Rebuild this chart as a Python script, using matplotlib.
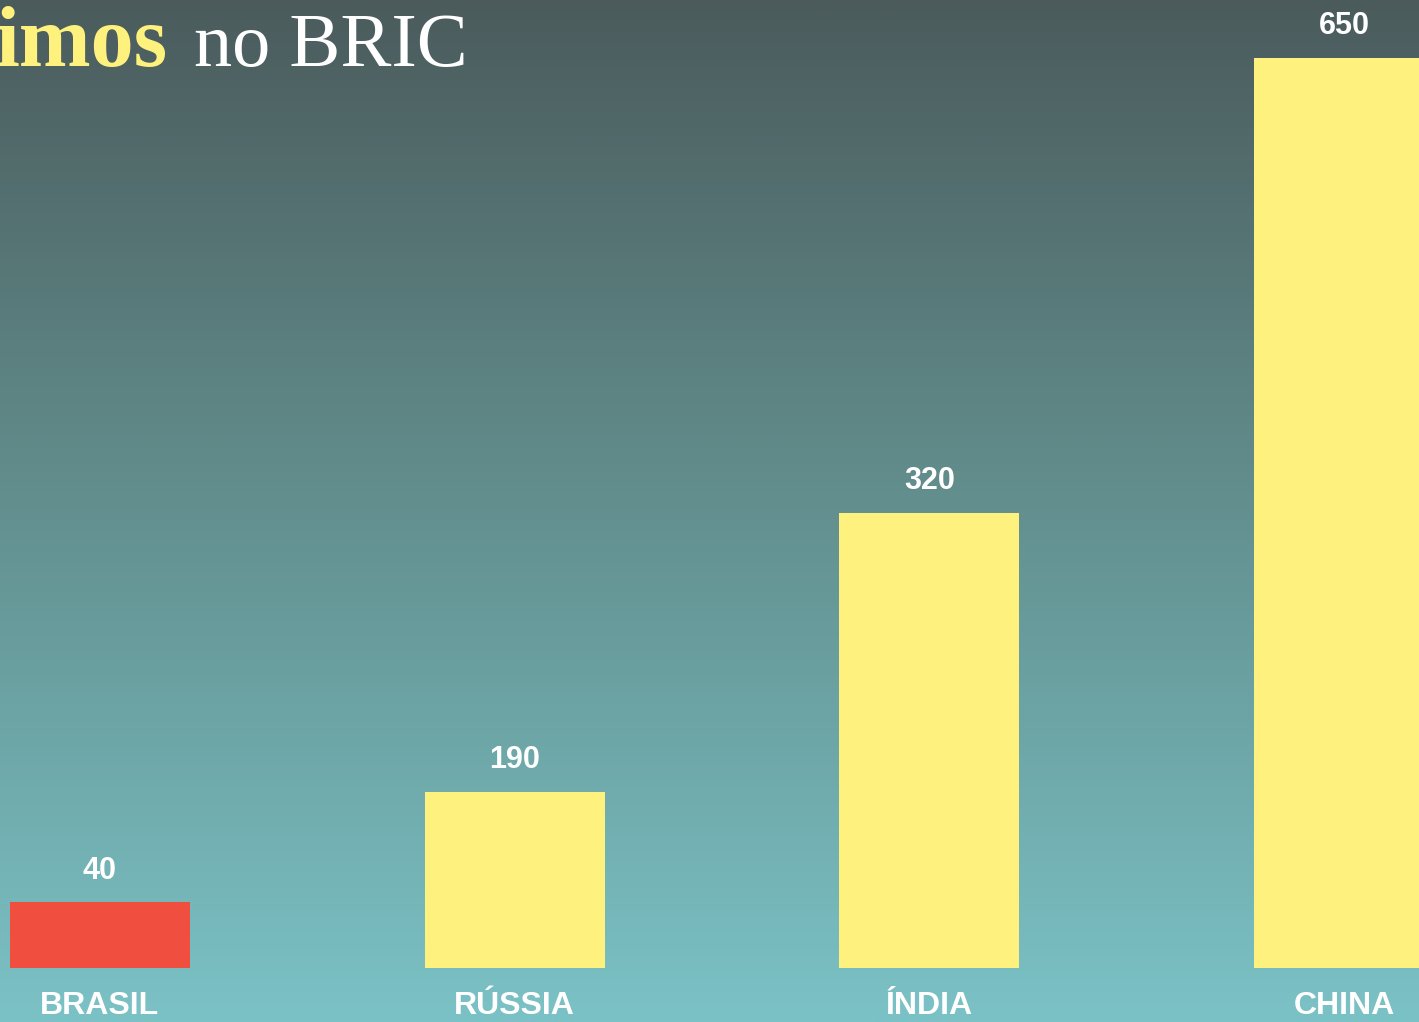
import numpy as np
import matplotlib
matplotlib.use('Agg')
import matplotlib.pyplot as plt
from matplotlib.colors import LinearSegmentedColormap

# Data
countries = ['BRASIL', 'RÚSSIA', 'ÍNDIA', 'CHINA']
bar_heights = [47, 126, 325, 650]        # drawn heights
value_labels = ['40', '190', '320', '650']
bar_colors = ['#f04f3f', '#fff17e', '#fff17e', '#fff17e']

W, H, DPI = 1419, 1022, 100
fig = plt.figure(figsize=(W / DPI, H / DPI), dpi=DPI)

# Gradient background
bg = fig.add_axes([0, 0, 1, 1])
cmap = LinearSegmentedColormap.from_list('bg', ['#4b5b5c', '#63908f', '#7bc2c6'])
grad = np.linspace(0, 1, 512).reshape(-1, 1)
bg.imshow(grad, aspect='auto', cmap=cmap, extent=[0, 1, 0, 1], origin='upper')
bg.axis('off')

# Bar axes, whole figure, scaled so the bars land where they are in the reference
ax = fig.add_axes([0, 0, 1, 1])
ax.patch.set_alpha(0)
x = np.arange(len(countries))
px_per_cat = 415
px_per_unit = 1.4
ax.set_xlim(-100 / px_per_cat, 3 + (W - 1344) / px_per_cat)
ax.set_ylim(-54 / px_per_unit, (H - 54) / px_per_unit)
ax.bar(x, bar_heights, width=180 / px_per_cat, color=bar_colors, zorder=2)
ax.axis('off')

for xi, h, lab in zip(x, bar_heights, value_labels):
    ax.annotate(lab, (xi, h), xytext=(0, 12), textcoords='offset points',
                ha='center', va='bottom', color='white', fontsize=22,
                fontweight='bold', family='Liberation Sans')

for xi, name in zip(x, countries):
    ax.annotate(name, (xi, 0), xytext=(0, -27), textcoords='offset points',
                ha='center', va='center', color='white', fontsize=23,
                fontweight='bold', family='Liberation Sans')

# Title (cut off at the left edge in the reference)
fig.text(167 / W, 1 - 66 / H, 'imos', ha='right', va='baseline',
         color='#fff17e', fontsize=62, fontweight='bold', family='Liberation Serif')
fig.text(194 / W, 1 - 66 / H, 'no BRIC', ha='left', va='baseline',
         color='white', fontsize=55, family='Liberation Serif')

fig.savefig('out.png', dpi=DPI)
